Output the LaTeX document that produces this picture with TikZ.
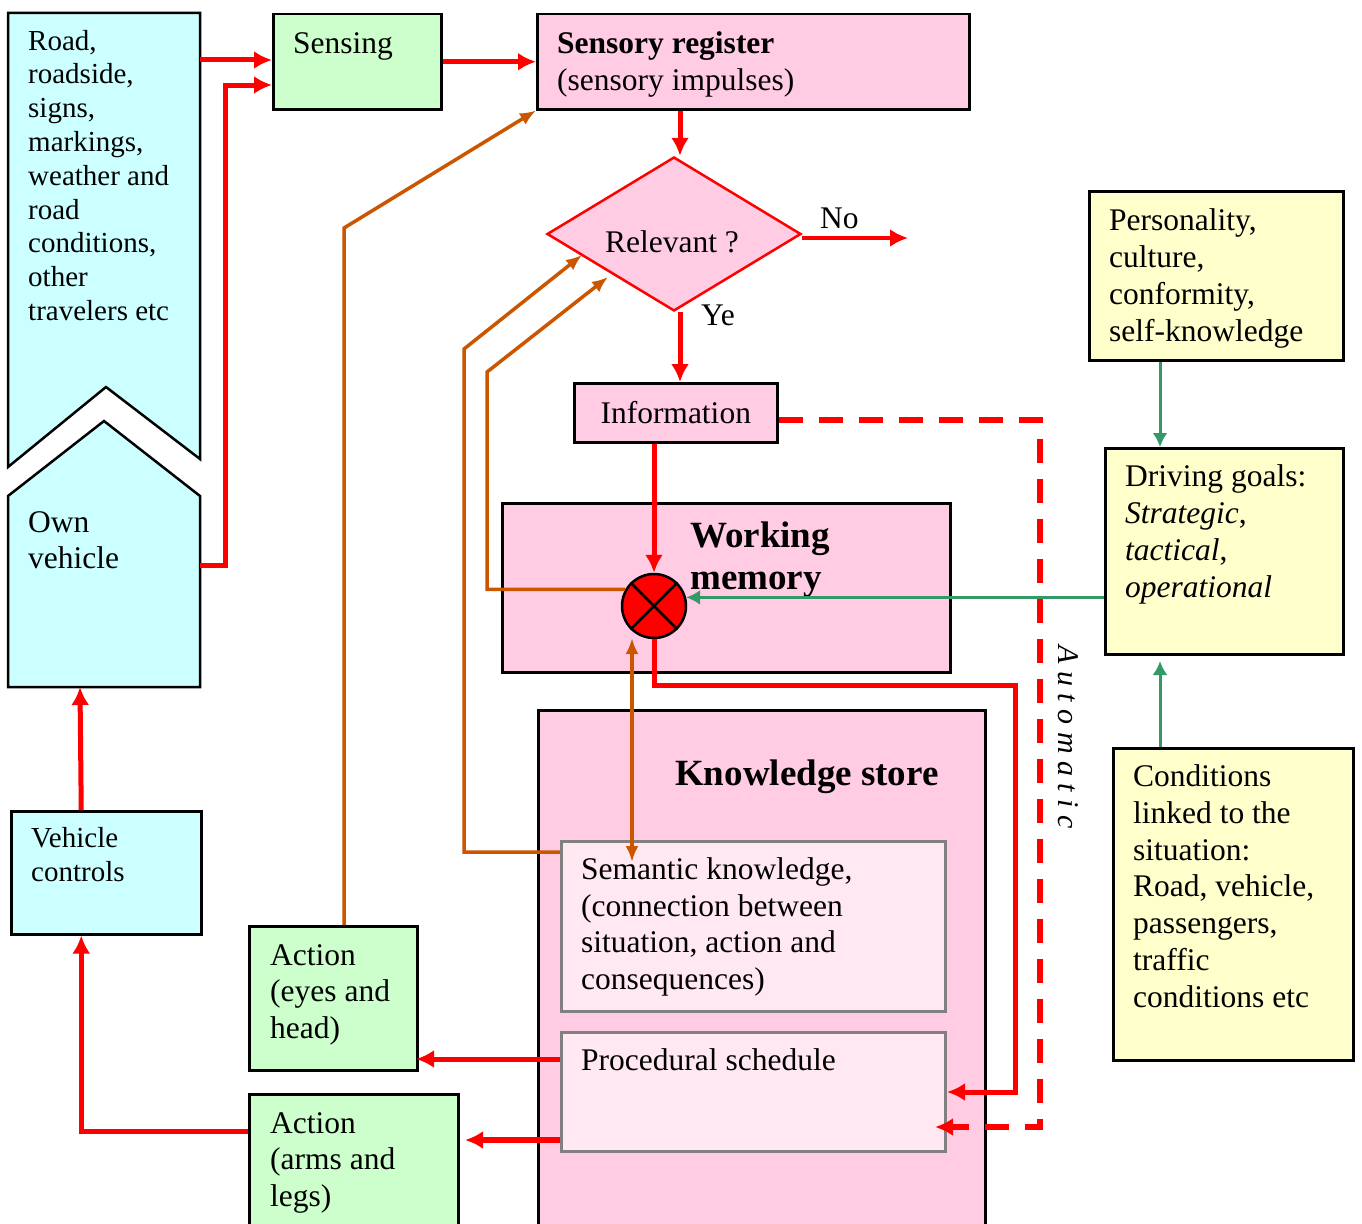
\documentclass[tikz,border=0pt]{standalone}
\usepackage{fontspec}
\setmainfont{Liberation Serif}
\usetikzlibrary{arrows.meta}
\usetikzlibrary{shapes.geometric}
\usetikzlibrary{calc}
\definecolor{cyanfill}{HTML}{CCFFFF}
\definecolor{greenfill}{HTML}{CCFFCC}
\definecolor{pinkfill}{HTML}{FFCCE3}
\definecolor{lightpink}{HTML}{FFE8F2}
\definecolor{yellowfill}{HTML}{FFFFCC}
\definecolor{brownline}{HTML}{CC5500}
\definecolor{greenline}{HTML}{339966}
\newcommand\bodyfont{\fontsize{31.5}{36.7}\selectfont}
\newcommand\smallbody{\fontsize{29}{33.8}\selectfont}

\begin{document}
\begin{tikzpicture}[x=1pt, y=-1pt,
		box/.style = {draw, line width=2.5pt, inner sep=0pt, anchor=north west},
		subbox/.style = {draw=gray, line width=3pt, fill=lightpink, inner sep=0pt, anchor=north west},
		txt/.style = {anchor=base west, align=left, inner sep=0pt, font=\bodyfont},
		redarr/.style = {draw=red, line width=5pt, -{Latex[length=18pt,width=18pt]}},
		orarr/.style = {draw=brownline, line width=3.5pt, -{Latex[length=16pt,width=13pt]}},
		grarr/.style = {draw=greenline, line width=3pt, -{Latex[length=14pt,width=15pt]}}]
		\useasboundingbox (0,0) rectangle (1362,1223);
		
		% left column (text nodes sit on the baseline of their last line)
		\draw[line width=2.5pt, fill=cyanfill] (8,13) -- (200,13) -- (200,459) -- (106,387) -- (8,467) -- cycle;
		\draw[line width=2.5pt, fill=cyanfill] (104,421) -- (200,496) -- (200,687) -- (8,687) -- (8,496) -- cycle;
		\node[txt, font=\smallbody] (roadtxt) at (28,320.4) {Road,\\roadside,\\signs,\\markings,\\weather and\\road\\conditions,\\other\\travelers etc};
		\node[txt] (owntxt) at (28,568.7) {Own\\vehicle};
		\coordinate (roadE) at (200,60);
		\coordinate (ownE) at (200,565);
		\coordinate (ownS) at (80,687);
		\coordinate (feedx) at (225,85);
		
		\node[box, fill=cyanfill, minimum width=190, minimum height=123] (vehctrl) at (10,810) {};
		\node[txt, font=\smallbody] (vehtxt) at (31,881) {Vehicle\\controls};
		
		% sensing and register
		\node[box, fill=greenfill, minimum width=168, minimum height=95] (sensing) at (272,13) {};
		\node[txt] (senstxt) at (293,54) {Sensing};
		\node[box, fill=pinkfill, minimum width=432, minimum height=95] (sensreg) at (536,13) {};
		\node[txt] (regtxt) at (557,90.5) {\textbf{Sensory register}\\(sensory impulses)};
		
		\node[diamond, draw=red, line width=2.5pt, fill=pinkfill, aspect=1.65, inner sep=0pt, minimum width=254, minimum height=154] (relevant) at (674,234) {};
		\node[anchor=base, inner sep=0pt, font=\bodyfont] (reltxt) at (672,252) {Relevant ?};
		\node[txt] (notxt) at (820,228) {No};
		\node[txt] (yestxt) at (701,325) {Ye};
		\coordinate (noend) at (908,238);
		
		\node[box, fill=pinkfill, minimum width=203, minimum height=59, font=\bodyfont] (info) at (573,382) {Information};
		
		% memory
		\node[box, fill=pinkfill, minimum width=448, minimum height=169] (workmem) at (501,502) {};
		\node[txt, font=\fontsize{37}{42}\selectfont\bfseries] (wmtxt) at (690,589) {Working\\memory};
		\node[circle, draw, line width=2.5pt, fill=red, minimum size=64, inner sep=0pt] (mix) at (654,606) {};
		\draw[line width=2.5pt] (mix.north west) -- (mix.south east);
		\draw[line width=2.5pt] (mix.north east) -- (mix.south west);
		
		\node[box, fill=pinkfill, minimum width=447, minimum height=530] (knowstore) at (537,709) {};
		\node[txt, font=\fontsize{37}{42}\selectfont\bfseries] (kstxt) at (675,785) {Knowledge store};
		\node[subbox, minimum width=384, minimum height=170] (semantic) at (560,840) {};
		\node[txt] (semtxt) at (581,989.5) {Semantic knowledge,\\(connection between\\situation, action and\\consequences)};
		\node[subbox, minimum width=384, minimum height=119] (procedural) at (560,1031) {};
		\node[txt] (proctxt) at (581,1070) {Procedural schedule};
		
		% actions
		\node[box, fill=greenfill, minimum width=168, minimum height=144] (acteyes) at (248,925) {};
		\node[txt] (eyestxt) at (270,1038.4) {Action\\(eyes and\\head)};
		\node[box, fill=greenfill, minimum width=209, minimum height=140] (actarms) at (248,1093) {};
		\node[txt] (armstxt) at (270,1206.4) {Action\\(arms and\\legs)};
		\coordinate (eyesin) at (416,1059);
		\coordinate (armsin) at (465,1140);
		
		% right column
		\node[box, fill=yellowfill, minimum width=254, minimum height=169] (personality) at (1088,190) {};
		\node[txt] (perstxt) at (1109,341) {Personality,\\culture,\\conformity,\\self-knowledge};
		\node[box, fill=yellowfill, minimum width=238, minimum height=206] (goals) at (1104,447) {};
		\node[txt] (goalstxt) at (1125,597) {Driving goals:\\\textit{Strategic},\\\textit{tactical},\\\textit{operational}};
		\node[box, fill=yellowfill, minimum width=240, minimum height=312] (conditions) at (1112,747) {};
		\node[txt] (condtxt) at (1133,1007) {Conditions\\linked to the\\situation:\\Road, vehicle,\\passengers,\\traffic\\conditions etc};
		\coordinate (goalsin) at (1160,661);
		
		\node[rotate=-90, inner sep=0pt, font=\fontsize{30}{30}\selectfont\itshape\addfontfeature{LetterSpace=25}] (autotxt) at (1068,737) {Automatic};
		
		% red flow
		\draw[redarr] (roadE) -- (sensing.west |- roadE);
		\draw[redarr] (ownE) -| (feedx) -- (sensing.west |- feedx);
		\draw[redarr] (sensing) -- (sensreg);
		\draw[redarr] ([xshift=6pt]sensreg.south -| relevant.north) -- ([xshift=6pt]relevant.north);
		\draw[redarr] ([xshift=6pt]relevant.south) -- ([xshift=6pt]relevant.south |- info.north);
		\draw[redarr, line width=4pt] (relevant.east |- noend) -- (noend);
		\draw[redarr] (info.south -| mix.north) -- (mix.north);
		\coordinate (kroute) at (1015,685);
		\draw[redarr] (mix.south) |- (kroute) |- (procedural.east);
		\coordinate (dashc) at (1040,420);
		\coordinate (dashend) at (935,1127);
		\draw[redarr, line width=5.5pt, dash pattern=on 24pt off 16pt] (info.east |- dashc) -- (dashc) -- (dashc |- dashend) -- (dashend);
		\draw[redarr] (procedural.west |- eyesin) -- (eyesin);
		\draw[redarr, line width=6.5pt] (procedural.west |- armsin) -- (armsin);
		\draw[redarr] ([yshift=33pt]actarms.west) -| ([xshift=-25pt]vehctrl.south);
		\draw[redarr] ([xshift=-25pt]vehctrl.north) -- (ownS);
		
		% feedback lines
		\coordinate (eyebend) at (344,228);
		\draw[orarr] (eyebend |- acteyes.north) -- (eyebend) -- (sensreg.south west);
		\coordinate (semA) at (464,349);
		\coordinate (semB) at (582,255);
		\draw[orarr] ([yshift=-12pt]semantic.north west) -| (semA) -- (semB);
		\coordinate (wmA) at (487,372);
		\coordinate (wmB) at (608,277);
		\draw[orarr] (mix.150) -| (wmA) -- (wmB);
		\coordinate (dblTop) at (632,638);
		\coordinate (dblBot) at (632,862);
		\draw[orarr, {Latex[length=16pt,width=13pt]}-{Latex[length=16pt,width=13pt]}] (dblTop) -- (dblBot);
		
		% goals
		\draw[grarr] (personality.south -| goalsin) -- (goals.north -| goalsin);
		\draw[grarr] (goals.west |- mix.15) -- (mix.15);
		\draw[grarr] (conditions.north -| goalsin) -- (goalsin);
\end{tikzpicture}
\end{document}
